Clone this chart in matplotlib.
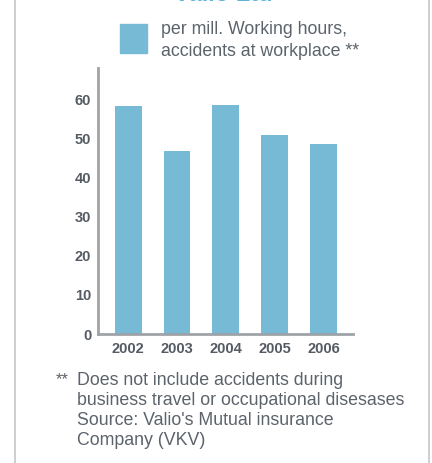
import matplotlib.pyplot as plt
from matplotlib.patches import Rectangle

years = ['2002', '2003', '2004', '2005', '2006']
accidents = [58.5, 46.9, 58.7, 51.0, 48.7]
yticks = [0, 10, 20, 30, 40, 50, 60]

bar_color = '#77bad6'
axis_color = '#9ea3a8'
text_color = '#5c636b'

plt.rcParams['font.family'] = ['Liberation Sans', 'DejaVu Sans']

fig = plt.figure(figsize=(4.32, 4.63), dpi=100)
W, H = 432, 463

def fx(px):
    return px / W

def fy(py):
    return 1 - py / H

# outer frame lines (left / right)
fig.add_artist(plt.Line2D([fx(15), fx(15)], [0, 1], color='#c3c7cb', lw=1.2))
fig.add_artist(plt.Line2D([fx(429), fx(429)], [0, 1], color='#c3c7cb', lw=1.2))

# title, mostly cut off at the top edge
fig.text(fx(223), fy(1), 'Valio Ltd', color='#5fb3dc', fontsize=17,
         fontweight='bold', ha='center', va='baseline')

# legend
fig.add_artist(Rectangle((fx(120), fy(53)), fx(27), 29 / H, color=bar_color,
                         transform=fig.transFigure))
fig.text(fx(161), fy(40.5), 'per mill. Working hours,\naccidents at workplace **',
         color=text_color, fontsize=12.8, ha='left', va='center', linespacing=1.39)

ax = fig.add_axes([fx(98.3), fy(334), fx(352.7 - 98.3), (334 - 68) / H])
x = range(len(years))
ax.bar(x, accidents, width=0.55, color=bar_color)
ax.set_xlim(-0.615, 4.6)
ax.set_ylim(0, 68.2)
ax.set_xticks(list(x))
ax.set_xticklabels(years)
ax.set_yticks(yticks)
for s in ['top', 'right']:
    ax.spines[s].set_visible(False)
for s in ['left', 'bottom']:
    ax.spines[s].set_color(axis_color)
    ax.spines[s].set_linewidth(2)
ax.tick_params(length=0, labelsize=10.5, labelcolor='#555b63')
ax.tick_params(axis='y', pad=5)
ax.tick_params(axis='x', pad=6)
for lbl in ax.get_xticklabels() + ax.get_yticklabels():
    lbl.set_fontweight('bold')

# footnote
note = ['Does not include accidents during',
        'business travel or occupational disesases',
        'Source: Valio\'s Mutual insurance',
        'Company (VKV)']
fig.text(fx(56), fy(380), '**', color=text_color, fontsize=12, ha='left', va='center')
fig.text(fx(77), fy(410.5), '\n'.join(note),
         color=text_color, fontsize=12.8, ha='left', va='center', linespacing=1.22)

fig.savefig('out.png', dpi=100)
